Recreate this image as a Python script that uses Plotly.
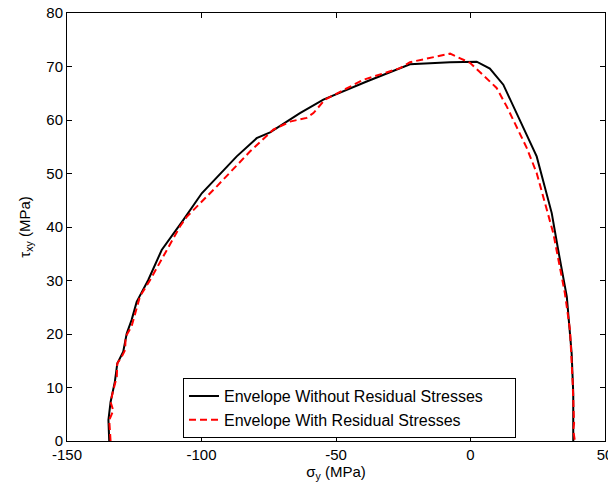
import plotly.graph_objects as go

# Envelope without residual stresses (black solid)
sx_no = [-134.3, -134.6, -133.8, -132.2, -131.3, -129.1, -127.8, -126.0, -124.1, -119.8, -114.8,
         -108.0, -106.8, -99.9, -86.9, -79.5, -74.5, -63.4, -54.7, -38.6, -26.2, -22.5, -7.6,
         2.3, 7.2, 12.2, 24.6, 30.2, 32.6, 35.8, 37.6, 38.2, 38.2]
tau_no = [0.0, 3.9, 7.3, 11.1, 14.5, 16.7, 20.1, 22.6, 26.0, 30.1, 35.7,
          40.4, 41.3, 46.3, 53.2, 56.6, 57.7, 61.3, 63.8, 67.2, 69.7, 70.4, 70.8,
          70.9, 69.6, 66.6, 53.2, 42.6, 35.7, 27.0, 16.4, 8.9, 0.0]

# Envelope with residual stresses (red dashed)
sx_rs = [-133.8, -134.3, -132.8, -133.8, -132.8, -131.5, -131.3, -129.7, -128.4, -128.2, -126.0,
         -124.7, -122.9, -119.1, -112.9, -108.0, -105.5, -94.3, -82.0, -73.3, -67.1, -60.9,
         -58.4, -54.1, -39.9, -26.2, -22.5, -7.6, -0.2, 9.7, 13.5, 20.9, 24.6, 30.8, 35.1,
         37.0, 38.0, 38.5, 38.2, 38.8]
tau_rs = [0.0, 3.9, 5.7, 7.3, 9.5, 12.0, 14.5, 15.7, 17.0, 19.5, 21.4,
          23.9, 27.0, 30.1, 35.7, 40.1, 41.9, 47.6, 54.1, 58.2, 59.7, 60.4,
          61.3, 63.8, 67.5, 69.7, 70.8, 72.4, 70.7, 66.0, 62.5, 54.8, 50.1, 38.8, 27.6,
          20.7, 10.7, 3.3, 2.0, 0.0]

x_ticks = [-150, -100, -50, 0, 50]
y_ticks = [0, 10, 20, 30, 40, 50, 60, 70, 80]

names = ["Envelope Without Residual Stresses", "Envelope With Residual Stresses"]

FONT = "Liberation Sans, Arial, sans-serif"
PAD = "\u00a0" * 6  # widens the legend box like the reference

fig = go.Figure()
fig.add_trace(go.Scatter(
    x=sx_no, y=tau_no, mode="lines",
    line=dict(color="black", width=2),
    name=names[0] + PAD))
fig.add_trace(go.Scatter(
    x=sx_rs, y=tau_rs, mode="lines",
    line=dict(color="red", width=2, dash="7px,4px"),
    name=names[1]))

axis_common = dict(
    showline=True, linecolor="black", linewidth=1, mirror="ticks",
    ticks="inside", ticklen=5, tickcolor="black", showgrid=False, zeroline=False,
    tickfont=dict(family=FONT, size=15, color="black"), automargin=False,
    ticklabeloverflow="allow",
)

# page body has an 8px margin, so the figure is sized to fit the window
fig.update_layout(
    width=608, height=477,
    margin=dict(l=59, r=11, t=5, b=44),
    paper_bgcolor="white", plot_bgcolor="white",
    font=dict(family=FONT, size=15, color="black"),
    xaxis=dict(range=[-150, 50], tickvals=x_ticks, ticktext=[str(v) for v in x_ticks],
               title=dict(text="σ<sub>y</sub> (MPa)", standoff=4,
                          font=dict(family=FONT, size=15)),
               **axis_common),
    yaxis=dict(range=[0, 80], tickvals=y_ticks, ticktext=[str(v) for v in y_ticks],
               title=dict(text="τ<sub>xy</sub> (MPa)", standoff=12,
                          font=dict(family=FONT, size=15)),
               **axis_common),
    legend=dict(x=0.2156, y=0.1468, xanchor="left", yanchor="top",
                bgcolor="white", bordercolor="black", borderwidth=1,
                font=dict(family=FONT, size=16), tracegroupgap=0),
    showlegend=True,
)

fig.write_html("out.html")
